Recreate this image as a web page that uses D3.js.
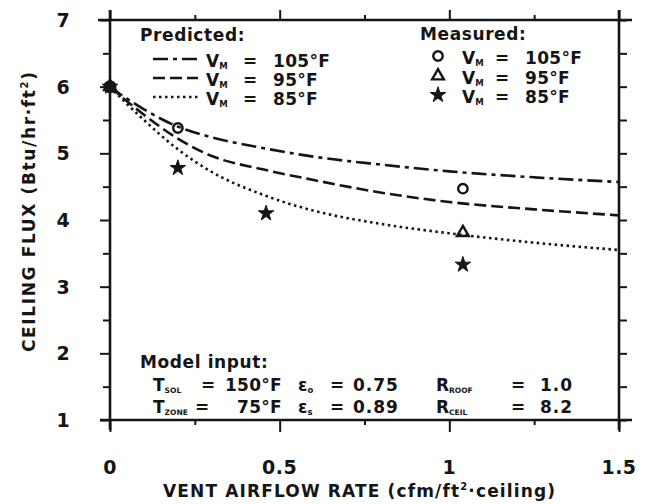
<!DOCTYPE html>
<html>
<head>
<meta charset="utf-8">
<script src="https://cdn.jsdelivr.net/npm/d3@7"></script>
<style>
  body { margin: 0; background: #fff; }
  text { font-family: "DejaVu Sans", sans-serif; font-weight: bold; fill: #151515; }
</style>
</head>
<body>
<svg id="chart" width="650" height="504"></svg>
<script>
// --- Data ---
const airflow = [0, 0.05, 0.1, 0.2, 0.3, 0.45, 0.6, 0.8, 1.0, 1.25, 1.5];
const pred105 = [6.0, 5.82, 5.66, 5.4, 5.24, 5.08, 4.95, 4.83, 4.73, 4.64, 4.57];
const pred95 = [6.0, 5.78, 5.58, 5.22, 4.96, 4.76, 4.6, 4.41, 4.27, 4.16, 4.07];
const pred85 = [6.0, 5.74, 5.5, 5.06, 4.72, 4.38, 4.14, 3.94, 3.8, 3.66, 3.55];

const meas105X = [0, 0.2, 1.04];
const meas105Y = [6.0, 5.38, 4.47];
const meas95X = [0, 1.04];
const meas95Y = [6.0, 3.81];
const meas85X = [0, 0.2, 0.46, 1.04];
const meas85Y = [6.0, 4.78, 4.1, 3.33];

const xMajor = [0, 0.5, 1, 1.5];
const xLabels = ["0", "0.5", "1", "1.5"];
const xMinor = [0.25, 0.75, 1.25];
const yMajor = [1, 2, 3, 4, 5, 6, 7];
const yMinor = [1.5, 2.5, 3.5, 4.5, 5.5, 6.5];

const seriesNames = ["105°F", "95°F", "85°F"];

// --- Setup ---
const svg = d3.select("#chart");
const ink = "#151515";
const x = d3.scaleLinear().domain([0, 1.5]).range([110, 619]);
const y = d3.scaleLinear().domain([1, 7]).range([420, 20]);

// --- Axes ---
function tickAxis(axisFn, scale, values, size, transform) {
  const g = svg.append("g").attr("transform", transform)
    .call(axisFn(scale).tickValues(values).tickSize(size).tickFormat(""));
  g.select(".domain").remove();
  g.selectAll("line").attr("stroke", ink).attr("stroke-width", 2);
  return g;
}
tickAxis(d3.axisLeft, y, yMajor, 10, "translate(110,0)");
tickAxis(d3.axisLeft, y, yMinor, 7, "translate(110,0)");
tickAxis(d3.axisRight, y, yMajor.concat(yMinor), 8, "translate(619,0)");
tickAxis(d3.axisBottom, x, xMajor, 12, "translate(0,420)");
tickAxis(d3.axisBottom, x, xMinor, 5, "translate(0,420)");
tickAxis(d3.axisTop, x, xMajor, 10, "translate(0,20)");
tickAxis(d3.axisTop, x, xMinor, 5, "translate(0,20)");

// frame, lines run a little past the corners
const frame = svg.append("g").attr("stroke", ink).attr("stroke-width", 2.6);
frame.append("line").attr("x1", 110).attr("x2", 110).attr("y1", 10).attr("y2", 430);
frame.append("line").attr("x1", 619).attr("x2", 619).attr("y1", 10).attr("y2", 430);
frame.append("line").attr("x1", 98).attr("x2", 632).attr("y1", 20).attr("y2", 20);
frame.append("line").attr("x1", 100).attr("x2", 632).attr("y1", 420).attr("y2", 420);

// tick labels
svg.append("g").selectAll("text").data(yMajor).join("text")
  .attr("x", 63).attr("y", d => y(d)).attr("dy", "0.36em")
  .attr("text-anchor", "middle").attr("font-size", 19)
  .text(d => d);
svg.append("g").selectAll("text").data(xMajor).join("text")
  .attr("x", d => x(d)).attr("y", 474)
  .attr("text-anchor", "middle").attr("font-size", 19).attr("letter-spacing", 0.5)
  .text((d, i) => xLabels[i]);

// axis titles
const xt = svg.append("text").attr("x", 163).attr("y", 497)
  .attr("font-size", 17).attr("textLength", 392).attr("lengthAdjust", "spacing");
xt.append("tspan").text("VENT AIRFLOW RATE (cfm/ft");
xt.append("tspan").attr("font-size", 10).attr("dy", -7).text("2");
xt.append("tspan").attr("dy", 7).text("·ceiling)");

const yt = svg.append("text").attr("transform", "translate(35,352) rotate(-90)")
  .attr("font-size", 17).attr("textLength", 280).attr("lengthAdjust", "spacing");
yt.append("tspan").text("CEILING FLUX (Btu/hr·ft");
yt.append("tspan").attr("font-size", 10).attr("dy", -7).text("2");
yt.append("tspan").attr("dy", 7).text(")");

// --- Predicted curves ---
const dashes = ["15,5,4,5", "12,5", "2.5,3.5"];
const predicted = [pred105, pred95, pred85];
const line = d3.line().x(d => x(d[0])).y(d => y(d[1])).curve(d3.curveMonotoneX);
svg.append("g").selectAll("path").data(predicted).join("path")
  .attr("d", vals => line(airflow.map((a, i) => [a, vals[i]])))
  .attr("fill", "none").attr("stroke", ink).attr("stroke-width", 2.6)
  .attr("stroke-dasharray", (d, i) => dashes[i]);

// --- Measured points ---
const symbols = [d3.symbolCircle, d3.symbolTriangle, d3.symbolStar];
const symSize = [70, 60, 75];
const measured = [
  meas105X.map((v, i) => [v, meas105Y[i]]),
  meas95X.map((v, i) => [v, meas95Y[i]]),
  meas85X.map((v, i) => [v, meas85Y[i]]),
];
function drawSymbol(g, k, cx, cy) {
  g.append("path")
    .attr("d", d3.symbol().type(symbols[k]).size(symSize[k])())
    .attr("transform", `translate(${cx},${cy})`)
    .attr("fill", k === 2 ? ink : "none")
    .attr("stroke", ink).attr("stroke-width", k === 2 ? 1 : 2.4);
}
const mg = svg.append("g");
measured.forEach((pts, k) => pts.forEach(p => drawSymbol(mg, k, x(p[0]), y(p[1]))));
// all three series share the starting point, which prints as a solid blob
mg.append("circle").attr("cx", x(meas105X[0])).attr("cy", y(meas105Y[0]))
  .attr("r", 6.5).attr("fill", ink);

// --- Legends ---
function subLabel(g, xPos, yPos, main, sub, size, subSize = size * 0.5) {
  const t = g.append("text").attr("x", xPos).attr("y", yPos).attr("font-size", size);
  t.append("tspan").text(main);
  t.append("tspan").attr("font-size", subSize).attr("dy", 2).text(sub);
  return t;
}
const leg = svg.append("g");
leg.append("text").attr("x", 140).attr("y", 41).attr("font-size", 17)
  .attr("letter-spacing", 0.6).text("Predicted:");
leg.append("text").attr("x", 420).attr("y", 40).attr("font-size", 17)
  .attr("letter-spacing", 0.6).text("Measured:");

const predRowY = [67, 86, 105];
const measRowY = [64, 84, 103];
seriesNames.forEach((name, i) => {
  leg.append("line").attr("x1", 153).attr("x2", 198)
    .attr("y1", predRowY[i] - 8).attr("y2", predRowY[i] - 8)
    .attr("stroke", ink).attr("stroke-width", 2.6).attr("stroke-dasharray", dashes[i]);
  subLabel(leg, 206, predRowY[i], "V", "M", 17);
  leg.append("text").attr("x", 250).attr("y", predRowY[i]).attr("font-size", 17)
    .attr("text-anchor", "middle").text("=");
  leg.append("text").attr("x", 273).attr("y", predRowY[i]).attr("font-size", 17)
    .attr("letter-spacing", 0.3).text(name);

  drawSymbol(leg, i, 438, measRowY[i] - 8);
  subLabel(leg, 462, measRowY[i], "V", "M", 17);
  leg.append("text").attr("x", 502).attr("y", measRowY[i]).attr("font-size", 17)
    .attr("text-anchor", "middle").text("=");
  leg.append("text").attr("x", 525).attr("y", measRowY[i]).attr("font-size", 17)
    .attr("letter-spacing", 0.3).text(name);
});

// --- Model input box ---
const mi = svg.append("g");
mi.append("text").attr("x", 140).attr("y", 368).attr("font-size", 17)
  .attr("letter-spacing", 0.6).text("Model input:");
const rowY = [391, 413];
subLabel(mi, 153, rowY[0], "T", "SOL", 17, 7.5);
subLabel(mi, 153, rowY[1], "T", "ZONE", 17, 7.5);
mi.append("text").attr("x", 208).attr("y", rowY[0]).attr("font-size", 17).attr("text-anchor", "middle").text("=");
mi.append("text").attr("x", 202).attr("y", rowY[1]).attr("font-size", 17).attr("text-anchor", "middle").text("=");
mi.append("text").attr("x", 282).attr("y", rowY[0]).attr("font-size", 17).attr("text-anchor", "end").attr("letter-spacing", 0.3).text("150°F");
mi.append("text").attr("x", 282).attr("y", rowY[1]).attr("font-size", 17).attr("text-anchor", "end").attr("letter-spacing", 0.3).text("75°F");
subLabel(mi, 298, rowY[0], "ε", "o", 17);
subLabel(mi, 298, rowY[1], "ε", "s", 17);
rowY.forEach(yy => mi.append("text").attr("x", 337).attr("y", yy).attr("font-size", 17).attr("text-anchor", "middle").text("="));
mi.append("text").attr("x", 353).attr("y", rowY[0]).attr("font-size", 17).attr("letter-spacing", 1).text("0.75");
mi.append("text").attr("x", 353).attr("y", rowY[1]).attr("font-size", 17).attr("letter-spacing", 1).text("0.89");
subLabel(mi, 436, rowY[0], "R", "ROOF", 17, 7.5);
subLabel(mi, 436, rowY[1], "R", "CEIL", 17, 7.5);
rowY.forEach(yy => mi.append("text").attr("x", 518).attr("y", yy).attr("font-size", 17).attr("text-anchor", "middle").text("="));
mi.append("text").attr("x", 540).attr("y", rowY[0]).attr("font-size", 17).attr("letter-spacing", 1).text("1.0");
mi.append("text").attr("x", 540).attr("y", rowY[1]).attr("font-size", 17).attr("letter-spacing", 1).text("8.2");
</script>
</body>
</html>
